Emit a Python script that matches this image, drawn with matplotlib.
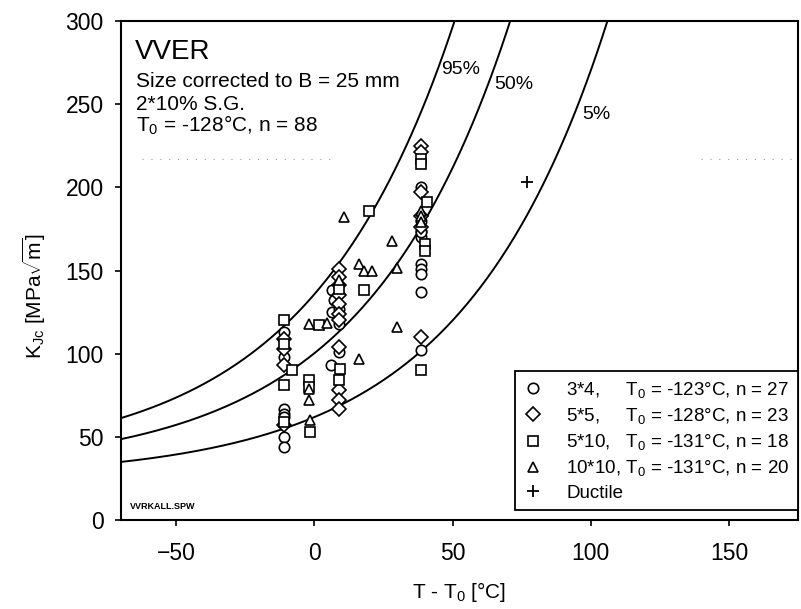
import numpy as np
import matplotlib
matplotlib.use("Agg")
import matplotlib.pyplot as plt

plt.rcParams['font.family'] = ['Liberation Sans', 'DejaVu Sans']
plt.rcParams['mathtext.fontset'] = 'custom'
plt.rcParams['mathtext.rm'] = 'Liberation Sans'
plt.rcParams['mathtext.it'] = 'Liberation Sans:italic'

# Master curve percentiles (B = 25 mm)
percentiles = [0.05, 0.50, 0.95]
curve_labels = ['5%', '50%', '95%']
label_pos_T = [97, 65, 46]
label_pos_K = [244, 262, 271]

# 3*4 specimens (circles)
c_T = [-11, -11, -11, -11, -11, -11, -11, 6.5, 7, 6.5, 9, 9, 6, 9,
       38.4, 38.4, 38.4, 38.4, 38.4, 38.4, 38.4, 38.4, 38.4, 38.4]
c_K = [113, 98, 67, 64, 62, 50, 44, 138, 132, 125, 127, 101, 93, 118,
       200, 180, 174, 170, 154, 151, 148, 137, 102, 173]

# 5*5 specimens (diamonds)
d_T = [-11, -11, -11, -11, 9, 9, 9, 9, 9, 9, 9, 9, 9, 9, 9,
       38.4, 38.4, 38.4, 38.4, 38.4, 38.4]
d_K = [109, 103, 93, 57, 151, 146, 141, 135, 130, 124, 120, 104, 78, 72, 67,
       225, 221, 197, 183, 176, 110]

# 5*10 specimens (squares)
s_T = [-11, -11, -8, -11, -11, 1.7, -2, -2, -1.5, 9.4, 9, 9, 18, 19.7,
       38.4, 38.4, 40.8, 40, 40, 38.4]
s_K = [120, 106, 90, 81, 59, 117, 84, 80, 53, 91, 84, 139, 138, 186,
       217, 214, 191, 166, 162, 90]

# 10*10 specimens (triangles)
t_T = [-2, -2, -1.5, -2, 4.7, 10.7, 16, 16, 18, 21, 28, 30, 30,
       38.4, 38.4, 9, 38.4]
t_K = [79, 72, 60, 118, 118.5, 182, 97, 154, 150, 150, 168, 151.5, 116,
       186, 183, 144, 179]

# ductile result
p_T = [77]
p_K = [203]

fig = plt.figure(figsize=(8.01, 6.09), dpi=100)
ax = fig.add_axes([0.151, 0.1461, 0.8453, 0.8194])

T = np.linspace(-70, 175, 500)
for p, lab, lx, ly in zip(percentiles, curve_labels, label_pos_T, label_pos_K):
    K = 20 + (np.log(1 / (1 - p))) ** 0.25 * (11 + 77 * np.exp(0.019 * T))
    ax.plot(T, K, color='black', lw=1.4)
    ax.text(lx, ly, lab, fontsize=14, ha='left', va='center')

# faint dotted trace across the upper part of the frame
ax.plot([-62.5, 7], [217, 217], color='#9a9a9a', lw=0.8, ls=(0, (1, 7)))
ax.plot([140, 175], [217, 217], color='#9a9a9a', lw=0.8, ls=(0, (1, 7)))

mk = dict(linestyle='none', markerfacecolor='white', markeredgecolor='black',
          markeredgewidth=1.2)
ax.plot(c_T, c_K, marker='o', markersize=7.5,
        label='3*4,     T$_0$ = -123°C, n = 27', **mk)
ax.plot(d_T, d_K, marker='D', markersize=6.8,
        label='5*5,     T$_0$ = -128°C, n = 23', **mk)
ax.plot(s_T, s_K, marker='s', markersize=7,
        label='5*10,   T$_0$ = -131°C, n = 18', **mk)
ax.plot(t_T, t_K, marker='^', markersize=7.5,
        label='10*10, T$_0$ = -131°C, n = 20', **mk)
ax.plot(p_T, p_K, marker='+', markersize=9, linestyle='none', color='black',
        markeredgewidth=1.3, label='Ductile')

ax.set_xlim(-70, 175)
ax.set_ylim(0, 300)
ax.set_xticks([-50, 0, 50, 100, 150])
ax.set_yticks([0, 50, 100, 150, 200, 250, 300])
ax.tick_params(direction='out', length=4.5, width=1.2, labelsize=16.5)
ax.tick_params(axis='y', pad=8)
ax.tick_params(axis='x', pad=11)
for s in ax.spines.values():
    s.set_linewidth(1.5)

ax.set_xlabel('T - T$_0$ [°C]', fontsize=15, labelpad=11)
ax.set_ylabel(r'K$_{\rm Jc}$ [MPa$\sqrt{\rm m}$]', fontsize=15)
ax.yaxis.set_label_coords(-0.108, 0.45)

ax.text(0.0207, 0.9238, 'VVER', transform=ax.transAxes, fontsize=20, va='baseline')
ax.text(0.022, 0.8674, 'Size corrected to B = 25 mm', transform=ax.transAxes,
        fontsize=15, va='baseline')
ax.text(0.022, 0.8216, '2*10% S.G.', transform=ax.transAxes, fontsize=15, va='baseline')
ax.text(0.022, 0.778, 'T$_0$ = -128°C, n = 88', transform=ax.transAxes,
        fontsize=15, va='baseline')
ax.text(0.013, 0.022, 'VVRKALL.SPW', transform=ax.transAxes, fontsize=6.5,
        fontweight='bold', va='baseline')

leg = ax.legend(loc='lower right', bbox_to_anchor=(1.0, 0.02), borderaxespad=0,
                fontsize=13.5, frameon=True, fancybox=False, framealpha=1,
                edgecolor='black', handlelength=1.0, handletextpad=1.3,
                labelspacing=0.33, borderpad=0.45)
leg.get_frame().set_linewidth(1.3)

fig.savefig('out.png', dpi=100)
